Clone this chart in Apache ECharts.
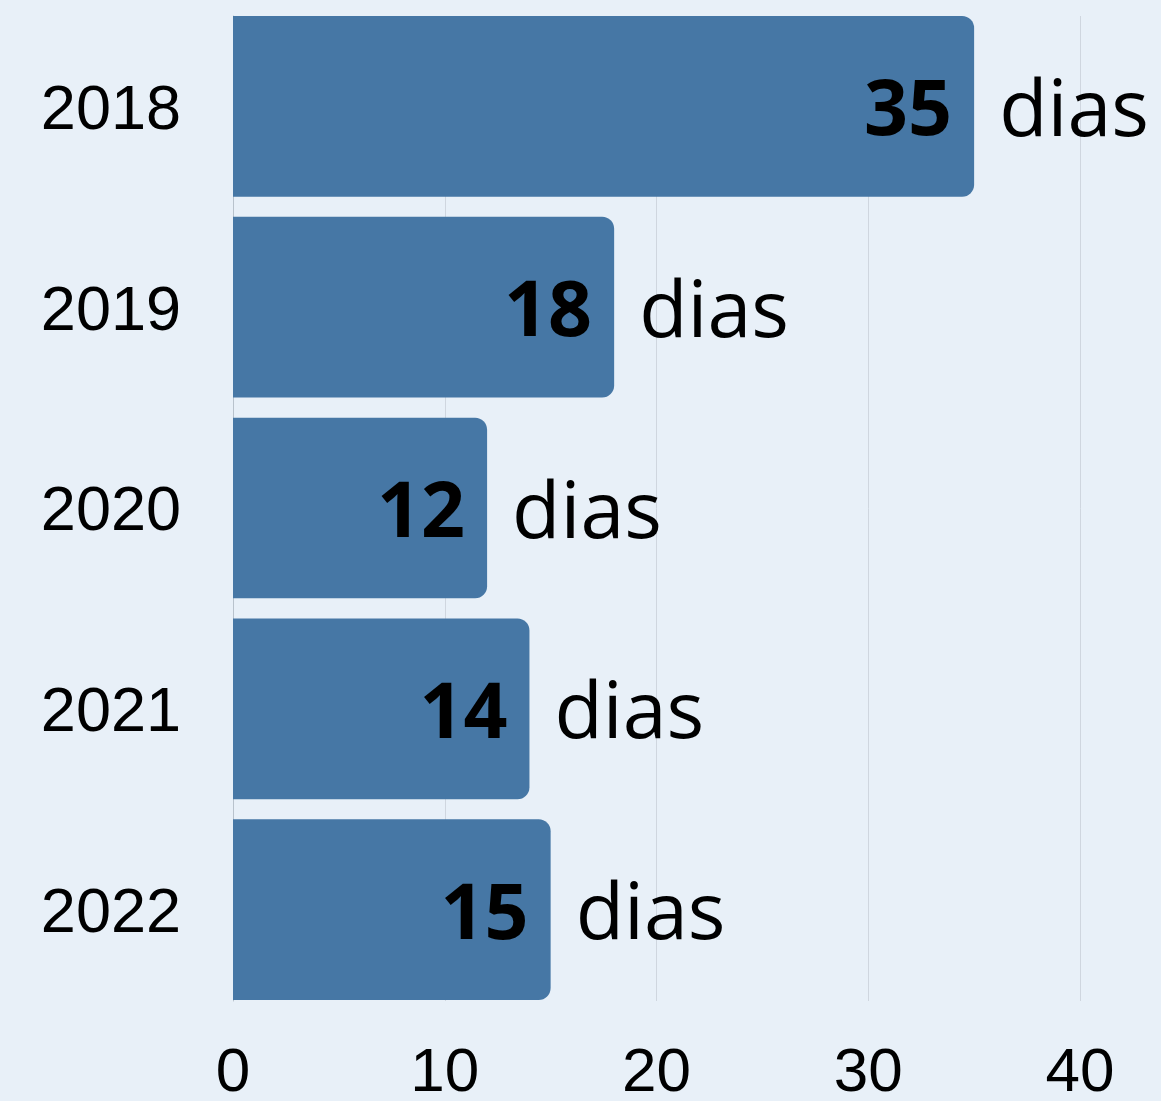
<!DOCTYPE html>
<html>
<head>
<meta charset="utf-8">
<script src="https://cdn.jsdelivr.net/npm/echarts@6/dist/echarts.min.js"></script>
<style>
  html, body { margin: 0; padding: 0; background: #e8f0f8; }
  #chart { width: 1161px; height: 1101px; }
</style>
</head>
<body>
<div id="chart"></div>
<script>
const years = ['2018', '2019', '2020', '2021', '2022'];
const days = [35, 18, 12, 14, 15];
const unitText = 'dias';

const xMin = 0;
const xMax = 40;
const xStep = 10;

function initChart() {
    const dom = document.getElementById('chart');
    const chart = echarts.init(dom);

    const option = {
        backgroundColor: '#e8f0f8',
        animation: false,
        grid: [
            // bars
            { left: 233, right: 81, top: 6, bottom: 91, outerBoundsMode: 'none' },
            // gridlines + tick labels
            { left: 233, right: 81, top: 16, bottom: 100, outerBoundsMode: 'none' }
        ],
        xAxis: [
            {
                gridIndex: 0, type: 'value', min: xMin, max: xMax, interval: xStep,
                show: false
            },
            {
                gridIndex: 1, type: 'value', min: xMin, max: xMax, interval: xStep,
                axisLine: { show: false },
                axisTick: { show: false },
                splitLine: { show: true, lineStyle: { color: '#cfd6df', width: 1 } },
                axisLabel: {
                    margin: 42,
                    fontFamily: 'Liberation Sans',
                    fontSize: 62,
                    color: '#000'
                }
            }
        ],
        yAxis: [
            {
                gridIndex: 0, type: 'category', data: years, inverse: true,
                axisLine: { show: false },
                axisTick: { show: false },
                axisLabel: {
                    margin: 52,
                    formatter: '{y|{value}}',
                    rich: {
                        y: {
                            padding: [10, 0, 0, 0],
                            fontFamily: 'Liberation Sans',
                            fontSize: 63,
                            color: '#000'
                        }
                    }
                }
            },
            {
                gridIndex: 1, type: 'category', data: years, inverse: true,
                axisLine: { show: true, lineStyle: { color: '#b8c2cc', width: 1 } },
                axisTick: { show: false },
                axisLabel: { show: false }
            }
        ],
        series: [
            {
                type: 'bar',
                xAxisIndex: 0, yAxisIndex: 0,
                data: days,
                barCategoryGap: '10%',
                itemStyle: { color: '#4677a5', borderRadius: [0, 12, 12, 0] },
                label: {
                    show: true,
                    position: 'insideRight',
                    distance: 22,
                    offset: [0, 7],
                    fontFamily: 'Open Sans',
                    fontWeight: 'bold',
                    fontSize: 77,
                    color: '#000'
                },
                z: 3
            },
            {
                // invisible overlay only to place the unit text
                type: 'bar',
                xAxisIndex: 0, yAxisIndex: 0,
                data: days,
                barGap: '-100%',
                barCategoryGap: '10%',
                itemStyle: { color: 'rgba(0,0,0,0)' },
                label: {
                    show: true,
                    position: 'right',
                    distance: 25,
                    offset: [0, 7],
                    formatter: unitText,
                    fontFamily: 'Open Sans',
                    fontSize: 79,
                    color: '#000'
                },
                silent: true,
                z: 4
            }
        ]
    };

    chart.setOption(option);
    window.addEventListener('resize', () => chart.resize());
}

document.addEventListener('DOMContentLoaded', initChart);
</script>
</body>
</html>
